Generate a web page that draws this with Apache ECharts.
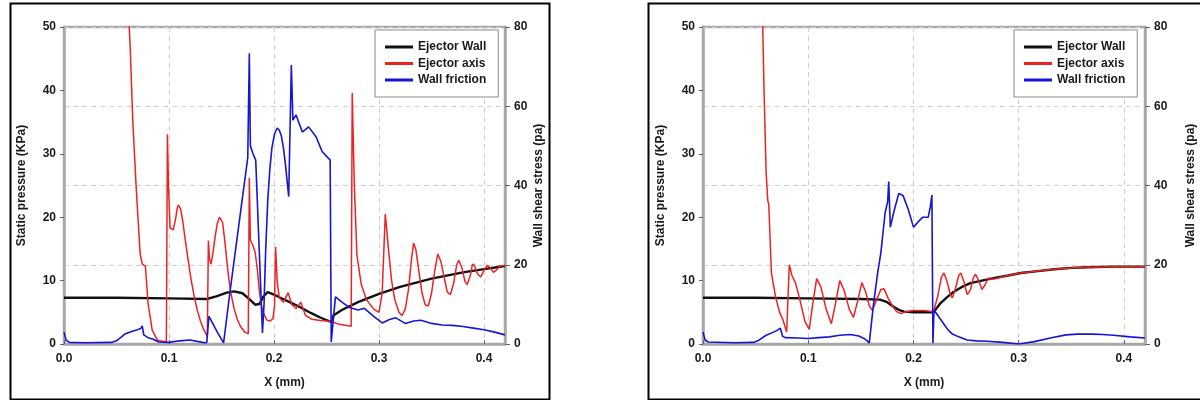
<!DOCTYPE html>
<html>
<head>
<meta charset="utf-8">
<script src="https://cdn.jsdelivr.net/npm/echarts@6/dist/echarts.min.js"></script>
<style>
  html, body { margin: 0; padding: 0; background: #fff; }
  #chart { width: 1200px; height: 400px; }
</style>
</head>
<body>
<div id="chart"></div>
<script>
// ---- Axis ticks ----
const xTicks = [0, 0.1, 0.2, 0.3, 0.4];
const pressureTicks = [0, 10, 20, 30, 40, 50];
const shearTicks = [0, 20, 40, 60, 80];
const seriesNames = ['Ejector Wall', 'Ejector axis', 'Wall friction'];

// ---- Case A (left panel) ----
const aWallX = [0, 0.05, 0.1, 0.136, 0.145, 0.155, 0.162, 0.17, 0.177, 0.182, 0.186, 0.19, 0.194, 0.2, 0.206, 0.215, 0.225, 0.235, 0.245, 0.2555, 0.2565, 0.265, 0.28, 0.3, 0.32, 0.35, 0.38, 0.4, 0.42];
const aWallP = [7.3, 7.3, 7.2, 7.1, 7.5, 8.1, 8.3, 8.0, 7.0, 6.2, 6.3, 7.5, 8.2, 7.8, 7.3, 6.6, 5.8, 4.9, 4.1, 3.4, 4.5, 5.4, 6.6, 7.9, 9.0, 10.3, 11.3, 11.8, 12.3];

const aAxisX = [0.0615, 0.063, 0.0655, 0.0687, 0.0725, 0.0745, 0.0775, 0.080, 0.084, 0.089, 0.095, 0.0975, 0.0985, 0.0995, 0.101, 0.104, 0.106, 0.108, 0.109, 0.111, 0.113, 0.115, 0.118, 0.121, 0.124, 0.127, 0.130, 0.133, 0.1365, 0.1375, 0.1385, 0.140, 0.142, 0.144, 0.146, 0.148, 0.1495, 0.151, 0.153, 0.155, 0.157, 0.159, 0.162, 0.165, 0.168, 0.172, 0.1755, 0.1765, 0.1775, 0.180, 0.182, 0.184, 0.186, 0.188, 0.190, 0.193, 0.196, 0.199, 0.2005, 0.2015, 0.203, 0.205, 0.209, 0.2135, 0.217, 0.221, 0.2255, 0.23, 0.236, 0.244, 0.254, 0.262, 0.2735, 0.2745, 0.2765, 0.279, 0.283, 0.288, 0.295, 0.300, 0.303, 0.306, 0.309, 0.312, 0.315, 0.319, 0.322, 0.325, 0.328, 0.331, 0.333, 0.335, 0.338, 0.341, 0.344, 0.347, 0.350, 0.353, 0.356, 0.359, 0.362, 0.365, 0.368, 0.371, 0.374, 0.376, 0.379, 0.382, 0.384, 0.387, 0.389, 0.391, 0.394, 0.397, 0.400, 0.403, 0.406, 0.409, 0.412, 0.415, 0.42];
const aAxisP = [52, 47, 35.3, 24.8, 14.3, 12.6, 12.3, 6.5, 2.2, 0.6, 0.4, 0.4, 33.1, 25, 18.3, 18.0, 19.5, 21.5, 21.9, 21.3, 19.5, 17, 13.5, 10.2, 7.5, 5.3, 3.6, 2.3, 1.2, 16.3, 13.5, 12.6, 14.5, 17, 19, 20, 20, 19.2, 16.5, 13.2, 10.3, 8, 5.6, 3.9, 2.8, 1.9, 1.6, 26.2, 16.4, 15.5, 14.5, 12, 8.5, 6, 4.9, 3.8, 3.6, 4.0, 6, 15.3, 10, 7.3, 6.6, 8.1, 6.2, 5.6, 6.6, 4.5, 3.9, 3.7, 3.6, 3.1, 2.8, 39.6, 25, 14, 9.5, 7, 5.5, 5.0, 8, 20.5, 15, 10, 7, 5, 4.5, 5.5, 8.5, 13.5, 15.9, 15, 11.5, 8, 6.2, 6.0, 8, 11.5, 14.2, 13, 10.5, 8.2, 7.8, 9.5, 12.5, 13.2, 12, 9.8, 9.4, 10.8, 12.6, 12.4, 11, 10.6, 11.6, 12.4, 12, 11.3, 11.7, 12.3, 12.4];

const aShearX = [0, 0.002, 0.005, 0.02, 0.045, 0.05, 0.058, 0.065, 0.07, 0.073, 0.0745, 0.076, 0.08, 0.085, 0.09, 0.1, 0.11, 0.12, 0.128, 0.134, 0.136, 0.138, 0.141, 0.146, 0.152, 0.158, 0.164, 0.17, 0.175, 0.1765, 0.1775, 0.18, 0.1826, 0.189, 0.1905, 0.192, 0.194, 0.196, 0.198, 0.2005, 0.203, 0.205, 0.207, 0.209, 0.211, 0.214, 0.2165, 0.218, 0.221, 0.227, 0.233, 0.24, 0.246, 0.2535, 0.2545, 0.2585, 0.265, 0.272, 0.28, 0.286, 0.295, 0.303, 0.31, 0.316, 0.325, 0.333, 0.34, 0.35, 0.36, 0.37, 0.38, 0.39, 0.40, 0.41, 0.42];
const aShearT = [3.0, 1.0, 0.4, 0.3, 0.4, 0.8, 2.5, 3.2, 3.6, 3.9, 4.6, 2.3, 1.6, 1.2, 0.5, 0.4, 0.8, 1.0, 0.6, 0.3, 0.4, 7.0, 5.5, 3.0, 0.3, 13, 25, 37, 47, 73.4, 50, 48, 46.4, 2.8, 10, 23, 36, 44, 49.5, 53, 54.5, 54, 52.5, 49.5, 45, 37.2, 70.4, 56.5, 57.8, 53.5, 54.8, 52.3, 48.5, 46.4, 0.5, 11.9, 10.5, 9.2, 8.6, 9.0, 7, 5.3, 6.2, 6.6, 5.2, 5.8, 6.0, 5.2, 4.8, 4.7, 4.4, 4.0, 3.6, 3.0, 2.3];

// ---- Case B (right panel) ----
const bWallX = [0, 0.05, 0.1, 0.15, 0.168, 0.175, 0.18, 0.186, 0.191, 0.2, 0.21, 0.219, 0.226, 0.232, 0.238, 0.246, 0.254, 0.265, 0.276, 0.29, 0.302, 0.318, 0.334, 0.35, 0.366, 0.39, 0.42];
const bWallP = [7.3, 7.3, 7.2, 7.1, 7.0, 6.6, 6.0, 5.4, 5.1, 5.0, 5.0, 5.0, 6.5, 7.4, 8.2, 9.0, 9.6, 10.0, 10.4, 10.8, 11.2, 11.5, 11.8, 12.0, 12.1, 12.2, 12.2];

const bAxisX = [0.0565, 0.058, 0.060, 0.0615, 0.0625, 0.065, 0.069, 0.073, 0.076, 0.0795, 0.082, 0.0845, 0.088, 0.092, 0.097, 0.101, 0.104, 0.108, 0.112, 0.117, 0.122, 0.126, 0.130, 0.134, 0.139, 0.143, 0.147, 0.151, 0.155, 0.158, 0.161, 0.165, 0.169, 0.172, 0.176, 0.180, 0.184, 0.188, 0.193, 0.2, 0.21, 0.219, 0.223, 0.2265, 0.229, 0.232, 0.235, 0.237, 0.240, 0.243, 0.245, 0.248, 0.251, 0.254, 0.257, 0.259, 0.262, 0.265, 0.268, 0.271, 0.274, 0.278, 0.285, 0.29, 0.302, 0.318, 0.334, 0.35, 0.366, 0.39, 0.42];
const bAxisP = [52, 40, 27, 22.7, 22, 11.2, 7.4, 4.9, 3.8, 1.9, 12.5, 10.8, 9.6, 7, 3.5, 2.3, 6, 10.3, 9, 5.5, 3.2, 6.5, 10.0, 8.5, 5.5, 4.2, 6.8, 9.7, 8, 6, 5.3, 7, 8.6, 8.7, 7.2, 6, 5.1, 4.8, 5.1, 5.3, 5.3, 5.1, 7.5, 10.5, 11.2, 9.8, 7.8, 7.3, 8.8, 10.8, 11.2, 9.8, 7.8, 8.5, 10.5, 11, 10, 8.6, 9.3, 10.4, 10.2, 10.3, 10.6, 10.8, 11.2, 11.5, 11.8, 12.0, 12.1, 12.2, 12.2];

const bShearX = [0, 0.002, 0.005, 0.03, 0.048, 0.052, 0.06, 0.067, 0.071, 0.0735, 0.0755, 0.078, 0.09, 0.1, 0.11, 0.12, 0.13, 0.14, 0.148, 0.153, 0.156, 0.158, 0.162, 0.166, 0.169, 0.173, 0.1755, 0.1765, 0.178, 0.181, 0.186, 0.19, 0.195, 0.2, 0.205, 0.209, 0.214, 0.216, 0.2175, 0.2185, 0.2195, 0.221, 0.225, 0.229, 0.233, 0.237, 0.243, 0.251, 0.26, 0.27, 0.285, 0.3, 0.315, 0.33, 0.345, 0.356, 0.37, 0.38, 0.39, 0.406, 0.42];
const bShearT = [3.0, 1.0, 0.5, 0.3, 0.4, 0.8, 2.2, 3.0, 3.5, 4.0, 2.0, 1.6, 1.5, 1.4, 1.6, 1.8, 2.2, 2.4, 2.0, 1.4, 0.8, 0.3, 10, 18, 23, 33, 36, 41, 29.5, 33, 38, 37.5, 34, 29.5, 31, 32, 32, 34.6, 37.6, 0.2, 8.6, 8.2, 6.5, 5, 3.5, 2.5, 1.8, 1.0, 0.8, 0.7, 0.4, 0.0, 0.6, 1.5, 2.3, 2.5, 2.5, 2.4, 2.2, 1.8, 1.5];

// ---- Helpers ----
const zip = (xs, ys) => xs.map((x, i) => [x, ys[i]]);
const FONT = '"Liberation Sans", Arial, sans-serif';
const TEXT = '#1a1a1a';
const FRAME = '#a8a8a8';
const GRID = '#d0d0d0';
const COLORS = { wall: '#111111', axis: '#ee2222', shear: '#1515d8' };

const panels = [
  { left: 64, right: 695, legendLeft: 375, shearGap: 28, wall: [aWallX, aWallP], axis: [aAxisX, aAxisP], shear: [aShearX, aShearT] },
  { left: 703, right: 55, legendLeft: 1014, shearGap: 40, wall: [bWallX, bWallP], axis: [bAxisX, bAxisP], shear: [bShearX, bShearT] }
];

const grid = [], xAxis = [], yAxis = [], series = [], legend = [];
const labelStyle = { color: TEXT, fontFamily: FONT, fontWeight: 'bold', fontSize: 12 };
const nameStyle = { color: TEXT, fontFamily: FONT, fontWeight: 'bold', fontSize: 12 };

panels.forEach((p, i) => {
  grid.push({ left: p.left, right: p.right, top: 27, bottom: 56, show: true,
    borderColor: FRAME, borderWidth: 2.5, backgroundColor: '#fff' });

  xAxis.push({
    type: 'value', gridIndex: i, min: xTicks[0], max: 0.42, interval: 0.1,
    name: 'X (mm)', nameLocation: 'middle', nameGap: 33, nameTextStyle: nameStyle,
    axisLine: { onZero: false, lineStyle: { color: FRAME, width: 2.5 } },
    axisTick: { inside: true, length: 4, lineStyle: { color: '#666' } },
    axisLabel: Object.assign({ margin: 9, showMaxLabel: false,
      formatter: v => xTicks.includes(+v.toFixed(1)) ? v.toFixed(1) : '' }, labelStyle),
    splitLine: { show: true, lineStyle: { color: GRID, type: [5, 4], width: 1 } }
  });

  yAxis.push({
    type: 'value', gridIndex: i, position: 'left',
    min: pressureTicks[0], max: pressureTicks[pressureTicks.length - 1], interval: 10,
    name: 'Static pressure (KPa)', nameLocation: 'middle', nameGap: 36, nameTextStyle: nameStyle,
    axisLine: { show: true, lineStyle: { color: FRAME, width: 2.5 } },
    axisTick: { show: true, length: 4, lineStyle: { color: '#666' } },
    axisLabel: Object.assign({ margin: 8 }, labelStyle),
    splitLine: { show: false }
  });
  yAxis.push({
    type: 'value', gridIndex: i, position: 'right',
    min: shearTicks[0], max: shearTicks[shearTicks.length - 1], interval: 20,
    name: 'Wall shear stress (pa)', nameLocation: 'middle', nameGap: p.shearGap, nameRotate: 90,
    nameTextStyle: nameStyle,
    axisLine: { show: true, lineStyle: { color: FRAME, width: 2.5 } },
    axisTick: { show: true, length: 5, lineStyle: { color: '#666' } },
    axisLabel: Object.assign({ margin: 9 }, labelStyle),
    splitLine: { show: true, lineStyle: { color: GRID, type: [5, 4], width: 1 } }
  });

  const base = { type: 'line', xAxisIndex: i, symbol: 'none', animation: false, clip: true };
  series.push(Object.assign({}, base, { name: seriesNames[0], yAxisIndex: 2 * i, z: 2,
    data: zip(p.wall[0], p.wall[1]), lineStyle: { color: COLORS.wall, width: 2.4 }, itemStyle: { color: COLORS.wall } }));
  series.push(Object.assign({}, base, { name: seriesNames[1], yAxisIndex: 2 * i, z: 3,
    data: zip(p.axis[0], p.axis[1]), lineStyle: { color: COLORS.axis, width: 1.5 }, itemStyle: { color: COLORS.axis } }));
  series.push(Object.assign({}, base, { name: seriesNames[2], yAxisIndex: 2 * i + 1, z: 4,
    data: zip(p.shear[0], p.shear[1]), lineStyle: { color: COLORS.shear, width: 1.6 }, itemStyle: { color: COLORS.shear } }));

  legend.push({
    data: seriesNames, orient: 'vertical', left: p.legendLeft, top: 30,
    icon: 'rect', itemWidth: 28, itemHeight: 3, itemGap: 2.5,
    padding: [10, 12, 10, 10],
    backgroundColor: '#fff', borderColor: '#8a8a8a', borderWidth: 1,
    textStyle: { color: TEXT, fontFamily: FONT, fontWeight: 'bold', fontSize: 12, lineHeight: 14 },
    selectedMode: false
  });
});

const chart = echarts.init(document.getElementById('chart'), null, { renderer: 'canvas' });
chart.setOption({
  backgroundColor: '#fff',
  animation: false,
  grid, xAxis, yAxis, series, legend,
  graphic: [
    { type: 'rect', left: 8, top: 1, shape: { x: 0, y: 0, width: 539, height: 396 },
      style: { fill: 'none', stroke: '#000', lineWidth: 2 }, z: 100 },
    { type: 'rect', left: 646, top: 1, shape: { x: 0, y: 0, width: 560, height: 396 },
      style: { fill: 'none', stroke: '#000', lineWidth: 2 }, z: 100 }
  ]
});
</script>
</body>
</html>
